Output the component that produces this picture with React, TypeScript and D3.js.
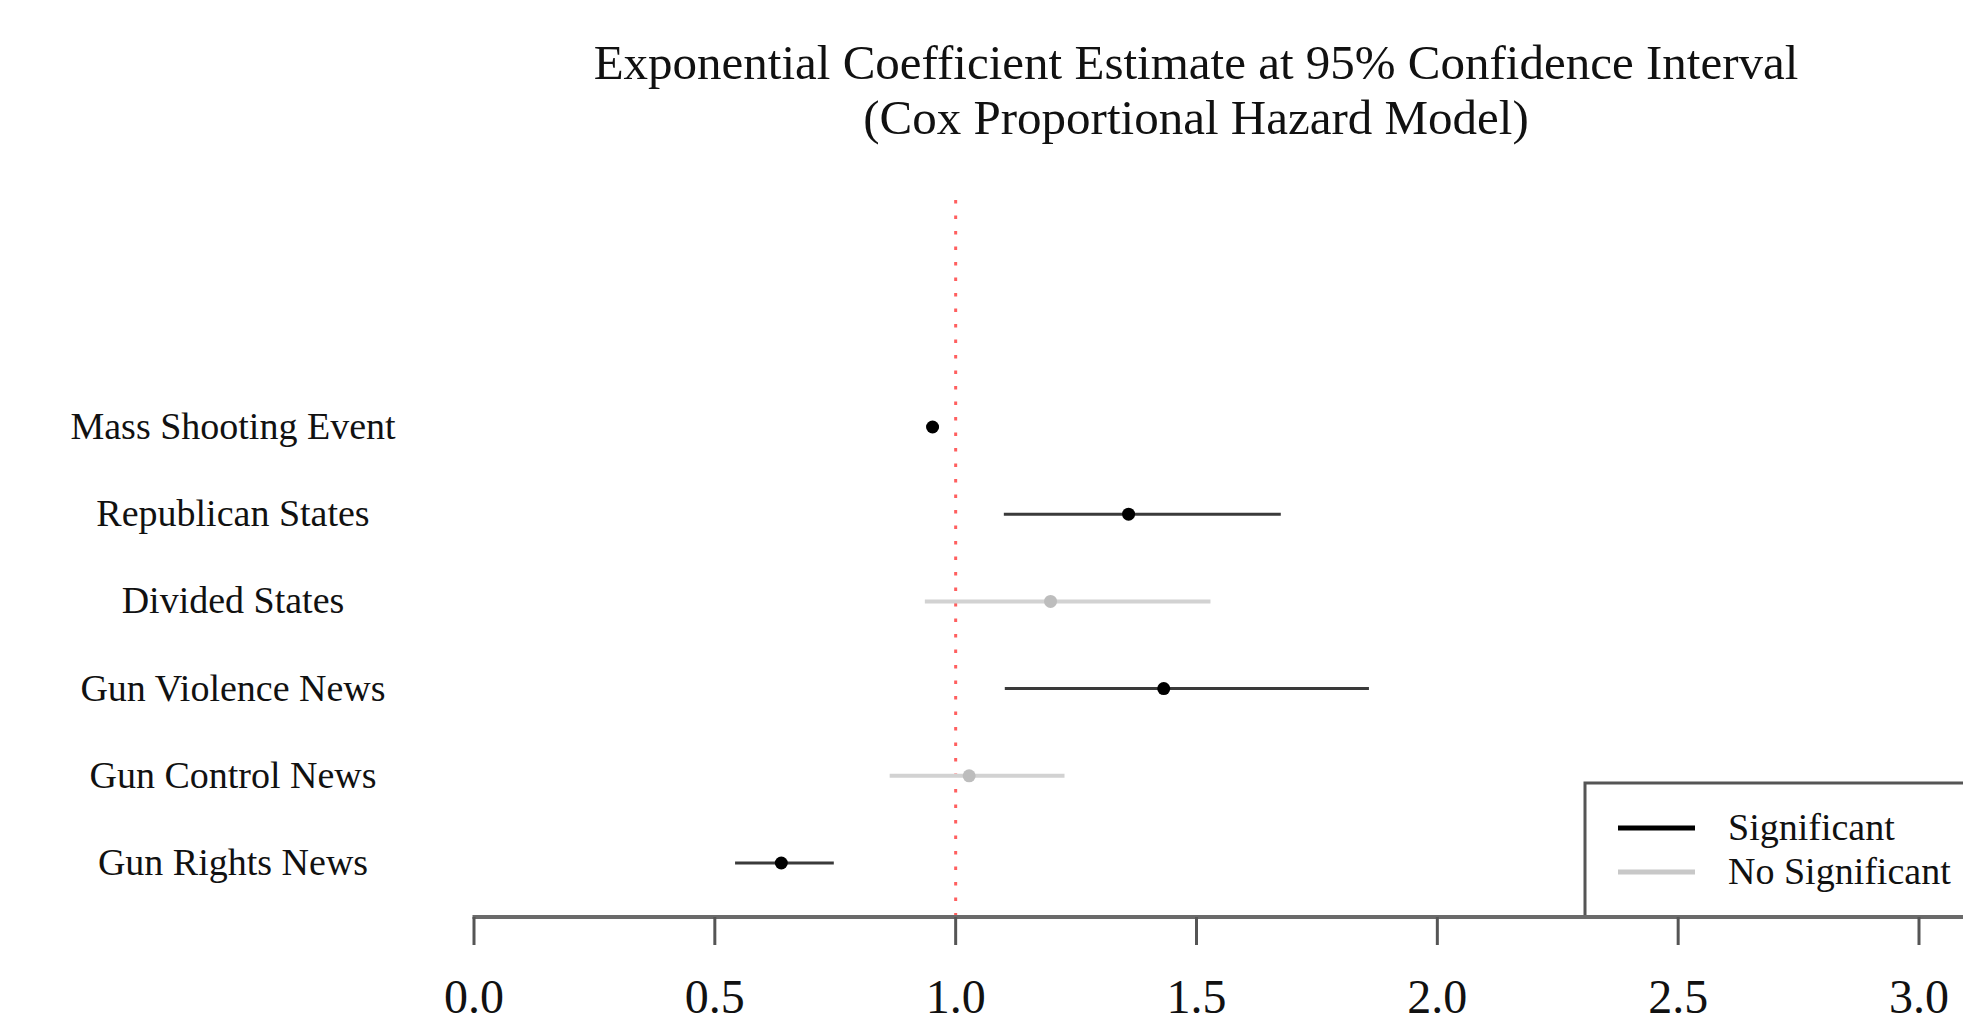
import React from "react";
import * as d3 from "d3";

const categories = [
  "Mass Shooting Event",
  "Republican States",
  "Divided States",
  "Gun Violence News",
  "Gun Control News",
  "Gun Rights News",
];
const estimates = [0.952, 1.359, 1.197, 1.432, 1.028, 0.638];
const lowerCI = [0.94, 1.1, 0.936, 1.102, 0.863, 0.542];
const upperCI = [0.965, 1.675, 1.529, 1.858, 1.226, 0.747];
const significant = [true, true, false, true, false, true];
const xTicks = [0, 0.5, 1, 1.5, 2, 2.5, 3];
const legendLabels = ["Significant", "No Significant"];
const titleLines = [
  "Exponential Coefficient Estimate at 95% Confidence Interval",
  "(Cox Proportional Hazard Model)",
];

const W = 1963;
const H = 1024;
const FONT = "'Liberation Serif', 'Times New Roman', serif";

export default function App() {
  const x = d3.scaleLinear().domain([0, 3]).range([474, 1919]);
  const y = d3.scalePoint<string>().domain(categories).range([427, 863]);
  const axisY = 917;
  const refTop = 200;

  return (
    <svg
      width={W}
      height={H}
      style={{ position: "absolute", left: 0, top: 0, background: "#fff" }}
    >
      <rect x={0} y={0} width={W} height={H} fill="#fff" />
      {titleLines.map((t, i) => (
        <text
          key={t}
          x={1196}
          y={79 + i * 55}
          textAnchor="middle"
          fontFamily={FONT}
          fontSize={49}
          fill="#111"
        >
          {t}
        </text>
      ))}

      {/* reference line at 1 */}
      <line
        x1={x(1)}
        x2={x(1)}
        y1={refTop}
        y2={axisY}
        stroke="#ff2a2a"
        strokeOpacity={0.75}
        strokeWidth={3}
        strokeDasharray="3.5 12"
      />

      {/* CI lines and points */}
      {categories.map((c, i) => {
        const yy = y(c)!;
        const sig = significant[i];
        return (
          <g key={c}>
            <line
              x1={x(lowerCI[i])}
              x2={x(upperCI[i])}
              y1={yy}
              y2={yy}
              stroke={sig ? "#3a3a3a" : "#d2d2d2"}
              strokeWidth={sig ? 3 : 4}
            />
            <circle cx={x(estimates[i])} cy={yy} r={6.5} fill={sig ? "#000" : "#bdbdbd"} />
            <text
              x={233}
              y={yy + 12}
              textAnchor="middle"
              fontFamily={FONT}
              fontSize={38}
              fill="#111"
            >
              {c}
            </text>
          </g>
        );
      })}

      {/* legend */}
      <path
        d={`M1585,${axisY} V783 H${W + 10}`}
        fill="none"
        stroke="#555"
        strokeWidth={3}
      />
      {legendLabels.map((l, i) => (
        <g key={l}>
          <line
            x1={1618}
            x2={1695}
            y1={828 + i * 44}
            y2={828 + i * 44}
            stroke={i === 0 ? "#000" : "#c8c8c8"}
            strokeWidth={5}
          />
          <text
            x={1728}
            y={840 + i * 44}
            fontFamily={FONT}
            fontSize={38}
            fill="#111"
          >
            {l}
          </text>
        </g>
      ))}

      {/* x axis */}
      <line x1={x(0) - 1.5} x2={W} y1={axisY} y2={axisY} stroke="#6a6a6a" strokeWidth={4} />
      {xTicks.map((t) => (
        <g key={t}>
          <line x1={x(t)} x2={x(t)} y1={axisY} y2={945} stroke="#555" strokeWidth={3} />
          <text
            x={x(t)}
            y={1013}
            textAnchor="middle"
            fontFamily={FONT}
            fontSize={48}
            fill="#111"
          >
            {d3.format(".1f")(t)}
          </text>
        </g>
      ))}
    </svg>
  );
}
